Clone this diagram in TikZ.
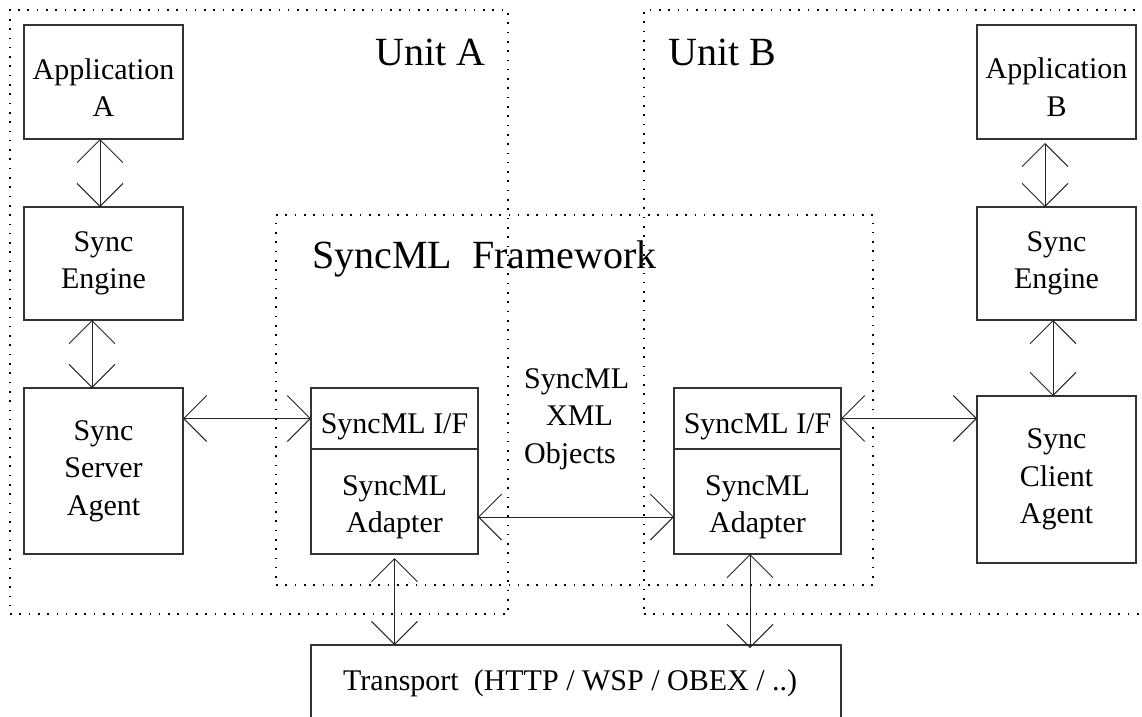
\documentclass[tikz,border=0pt]{standalone}
\usepackage{fontspec}
\setmainfont{Liberation Serif}
\usetikzlibrary{arrows.meta}

% invisible strut that lowers the first line of a label
\newcommand{\topgap}[1]{\rule{0pt}{#1}}

\tikzset{
  box/.style={draw=black!80, line width=1.1pt, anchor=north west, inner sep=0pt,
    outer sep=0pt, align=center, font=\fontsize{30}{37.5}\selectfont},
  region/.style={draw=black, line width=1.2pt, dash pattern=on 1.6pt off 7.7pt,
    anchor=north west, inner sep=0pt, outer sep=0pt},
  title/.style={anchor=base west, inner sep=0pt, font=\fontsize{40}{46}\selectfont},
  label/.style={anchor=base west, inner sep=0pt, font=\fontsize{30}{37.5}\selectfont},
  biarrow/.style={draw=black!85, line width=1pt,
    {Straight Barb[length=23pt,width=46pt]}-{Straight Barb[length=23pt,width=46pt]}}
}

\begin{document}
\begin{tikzpicture}[x=1pt, y=-1pt]
\useasboundingbox (0,0) rectangle (1142,716);
\clip (0,0) rectangle (1142,716);

% dotted regions
\node[region, minimum width=498pt, minimum height=604pt] (unitA) at (10,10) {};
\node[region, minimum width=520pt, minimum height=604pt] (unitB) at (644,10) {};
\node[region, minimum width=597pt, minimum height=370pt] (frame) at (276,215) {};

\node[title] (tUnitA) at (375,65) {Unit A};
\node[title] (tUnitB) at (668,65) {Unit B};
\node[title] (tFrame) at (312,268) {SyncML\ \ Framework};

% unit A
\node[box, minimum width=159pt, minimum height=114pt] (appA) at (24,25) {\topgap{31.5pt}Application\\A};
\node[box, minimum width=159pt, minimum height=113pt] (engA) at (24,207) {Sync\\Engine};
\node[box, minimum width=159pt, minimum height=166pt] (srvA) at (24,388) {Sync\\Server\\Agent};
\node[box, minimum width=167pt, minimum height=61pt] (ifA) at (311,388) {\topgap{37pt}SyncML I/F};
\node[box, minimum width=167pt, minimum height=105pt] (adA) at (311,449) {\topgap{31pt}SyncML\\Adapter};

% unit B
\node[box, minimum width=159pt, minimum height=114pt] (appB) at (977,25) {\topgap{31.5pt}Application\\B};
\node[box, minimum width=159pt, minimum height=113pt] (engB) at (977,207) {Sync\\Engine};
\node[box, minimum width=159pt, minimum height=167pt] (cliB) at (977,396) {Sync\\Client\\Agent};
\node[box, minimum width=167pt, minimum height=61pt] (ifB) at (674,388) {\topgap{37pt}SyncML I/F};
\node[box, minimum width=167pt, minimum height=105pt] (adB) at (674,449) {\topgap{31pt}SyncML\\Adapter};

% transport
\node[box, minimum width=530pt, minimum height=100pt] (trans) at (311,645) {};
\node[label] (tTrans) at (343,690) {Transport\ \ (HTTP / WSP / OBEX / ..)};

% exchanged objects
\node[label] (xml1) at (524,388) {SyncML};
\node[label] (xml2) at (546,425.5) {XML};
\node[label] (xml3) at (524,463) {Objects};

% connectors
\draw[biarrow] ([xshift=-3.5pt]appA.south) -- ([xshift=-3.5pt]engA.north);
\draw[biarrow] ([xshift=-11.5pt]engA.south) -- ([xshift=-11.5pt]srvA.north);
\draw[biarrow] (ifA.west -| srvA.east) -- (ifA.west);
\draw[biarrow] ([yshift=-15.5pt]adA.east) -- ([yshift=-15.5pt]adB.west);
\draw[biarrow] ([yshift=-4pt]adA.south) -- (adA.south |- trans.north);
\draw[biarrow] ([xshift=-7.5pt]adB.south) -- ([xshift=-7.5pt,yshift=-3pt]adB.south |- trans.north);
\draw[biarrow] (ifB.east) -- (ifB.east -| cliB.west);
\draw[biarrow] ([xshift=-11.5pt,yshift=-4pt]appB.south) -- ([xshift=-11.5pt]engB.north);
\draw[biarrow] ([xshift=-3.5pt]engB.south) -- ([xshift=-3.5pt]cliB.north);
\end{tikzpicture}
\end{document}
